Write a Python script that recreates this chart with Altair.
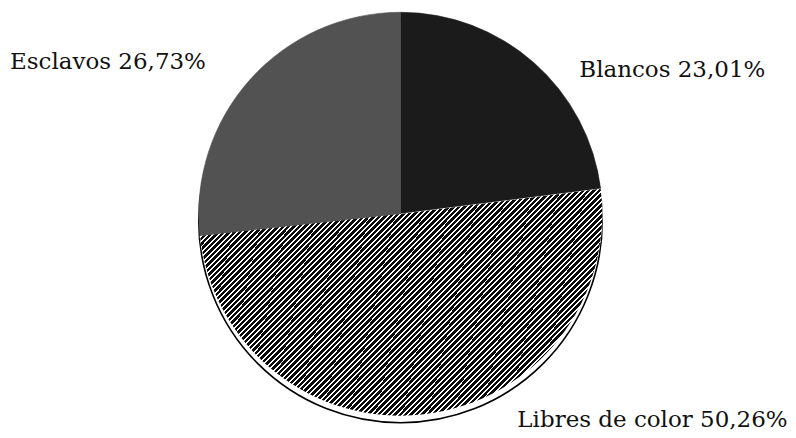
import altair as alt
import pandas as pd

categorias = ["Blancos", "Libres de color", "Esclavos"]
porcentajes = [23.01, 50.26, 26.73]
etiquetas = ["Blancos 23,01%", "Libres de color 50,26%", "Esclavos 26,73%"]
orden = [0, 1, 2]

df = pd.DataFrame({
    "categoria": categorias,
    "porcentaje": porcentajes,
    "etiqueta": etiquetas,
    "orden": orden,
})

W, H = 780, 422
CX, CY, R = 393, 206, 202

# diagonal hatch built as a striped linear gradient
n_stripes = 116
black_frac = 0.64
stops = []
for i in range(n_stripes):
    a = i / n_stripes
    b = (i + black_frac) / n_stripes
    c = (i + 1) / n_stripes
    stops += [
        {"offset": a, "color": "#0a0a0a"},
        {"offset": b, "color": "#0a0a0a"},
        {"offset": b, "color": "#ffffff"},
        {"offset": c, "color": "#ffffff"},
    ]
hatch = {"gradient": "linear", "x1": 0, "y1": 0, "x2": 1.189, "y2": 0.661, "stops": stops}

base = alt.Chart(df)

shadow = alt.Chart(df).transform_filter(alt.datum.orden == 1).mark_arc(
    outerRadius=R, theta=0, theta2=6.2832, fill="white", stroke="black", strokeWidth=1.6
).encode(x=alt.value(CX), y=alt.value(CY + 7))

colour_scale = alt.Scale(domain=categorias, range=["#1b1b1b", "#ffffff", "#525252"])

pie = base.mark_arc(outerRadius=R, strokeWidth=0.6).encode(
    theta=alt.Theta("porcentaje:Q", stack=True),
    order=alt.Order("orden:Q"),
    color=alt.Color("categoria:N", scale=colour_scale, legend=None),
    stroke=alt.Stroke("categoria:N", scale=colour_scale, legend=None),
    x=alt.value(CX), y=alt.value(CY),
)

hatched = base.mark_arc(outerRadius=R, fill=hatch, stroke=None).encode(
    theta=alt.Theta("porcentaje:Q", stack=True),
    order=alt.Order("orden:Q"),
    opacity=alt.condition(alt.datum.orden == 1, alt.value(1), alt.value(0)),
    x=alt.value(CX), y=alt.value(CY),
)

label_pos = {"Blancos": (572, 69), "Libres de color": (510, 419), "Esclavos": (2, 61)}
labels = []
for cat, (lx, ly) in label_pos.items():
    labels.append(
        alt.Chart(df).transform_filter(alt.datum.categoria == cat).mark_text(
            align="left", baseline="alphabetic", font="DejaVu Serif", fontSize=23, color="#111111"
        ).encode(text="etiqueta:N", x=alt.value(lx), y=alt.value(ly))
    )

chart = alt.layer(shadow, pie, hatched, *labels).properties(
    width=W, height=H, padding=0
).configure_view(stroke=None)

chart.save("out.html", embed_options={"renderer": "svg", "actions": False})
